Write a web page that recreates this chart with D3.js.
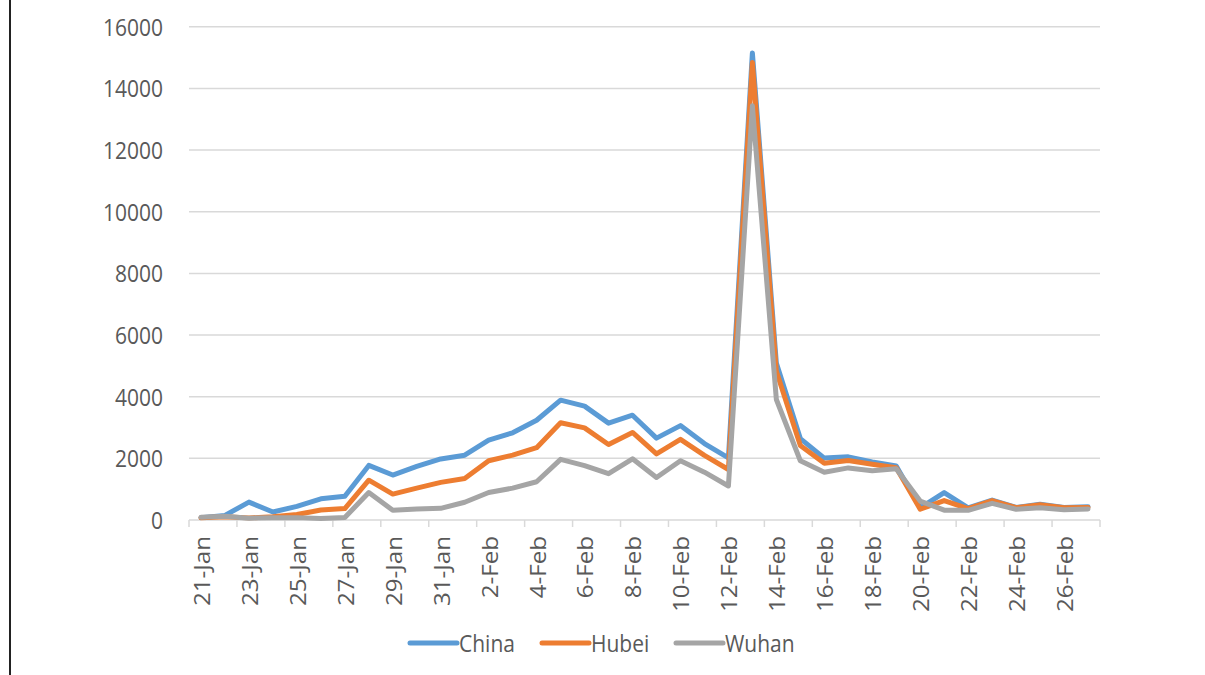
<!DOCTYPE html>
<html>
<head>
<meta charset="utf-8">
<script src="https://cdn.jsdelivr.net/npm/d3@7"></script>
<style>
  html, body { margin: 0; padding: 0; background: #ffffff; }
  svg { display: block; }
  text { font-family: "Open Sans", "Liberation Sans", sans-serif; fill: #595959; }
</style>
</head>
<body>
<svg id="chart" width="1205" height="675"></svg>
<script>
const categories = ["21-Jan","22-Jan","23-Jan","24-Jan","25-Jan","26-Jan","27-Jan","28-Jan","29-Jan","30-Jan","31-Jan",
  "1-Feb","2-Feb","3-Feb","4-Feb","5-Feb","6-Feb","7-Feb","8-Feb","9-Feb","10-Feb","11-Feb","12-Feb","13-Feb","14-Feb",
  "15-Feb","16-Feb","17-Feb","18-Feb","19-Feb","20-Feb","21-Feb","22-Feb","23-Feb","24-Feb","25-Feb","26-Feb","27-Feb"];

const china = [77, 149, 580, 259, 444, 688, 769, 1771, 1459, 1737, 1982, 2102, 2590, 2829, 3235, 3887, 3694, 3143, 3399,
  2656, 3062, 2478, 2015, 15152, 5090, 2641, 2009, 2048, 1886, 1749, 394, 889, 397, 648, 409, 508, 406, 433];
const hubei = [72, 105, 69, 105, 180, 323, 371, 1291, 840, 1032, 1220, 1347, 1921, 2103, 2345, 3156, 2987, 2447, 2841,
  2147, 2618, 2097, 1638, 14840, 4823, 2420, 1843, 1933, 1807, 1693, 349, 631, 366, 630, 398, 499, 401, 409];
const wuhan = [90, 120, 60, 70, 77, 46, 80, 892, 315, 356, 378, 576, 894, 1033, 1242, 1967, 1766, 1501, 1985,
  1379, 1921, 1552, 1104, 13436, 3910, 1923, 1548, 1690, 1600, 1660, 615, 319, 314, 541, 348, 401, 334, 357];

const seriesNames = ["China", "Hubei", "Wuhan"];
const seriesColors = ["#5B9BD5", "#ED7D31", "#A5A5A5"];
const yTicks = [0, 2000, 4000, 6000, 8000, 10000, 12000, 14000, 16000];

const svg = d3.select("#chart");

// left border line
svg.append("line").attr("x1", 10).attr("x2", 10).attr("y1", 0).attr("y2", 675)
  .attr("stroke", "#222").attr("stroke-width", 2);

const x = d3.scaleBand().domain(categories).range([189, 1100]).padding(0);
const y = d3.scaleLinear().domain([0, 16000]).range([520, 26.8]);

// gridlines
svg.append("g").selectAll("line").data(yTicks.filter(t => t > 0)).join("line")
  .attr("x1", 189).attr("x2", 1100)
  .attr("y1", d => y(d)).attr("y2", d => y(d))
  .attr("stroke", "#d9d9d9").attr("stroke-width", 1.5);

// y labels
svg.append("g").selectAll("text").data(yTicks).join("text")
  .attr("x", 163).attr("y", d => y(d))
  .attr("text-anchor", "end").attr("dominant-baseline", "central")
  .attr("font-size", 21)
  .attr("transform", d => `translate(0,${y(d)}) scale(1,1.12) translate(0,${-y(d)})`)
  .text(d => d);

// x axis line
svg.append("line").attr("x1", 189).attr("x2", 1100).attr("y1", y(0)).attr("y2", y(0))
  .attr("stroke", "#d9d9d9").attr("stroke-width", 1.5);

// tick marks every 2 categories at boundaries
const tickPos = categories.filter((c, i) => i % 2 === 0).map(c => x(c)).concat([x.range()[1]]);
svg.append("g").selectAll("line").data(tickPos).join("line")
  .attr("x1", d => d).attr("x2", d => d).attr("y1", y(0)).attr("y2", y(0) + 7)
  .attr("stroke", "#d9d9d9").attr("stroke-width", 1.5);

// x labels
const labelCats = categories.filter((c, i) => i % 2 === 0);
svg.append("g").selectAll("text").data(labelCats).join("text")
  .attr("text-anchor", "end").attr("dominant-baseline", "central")
  .attr("font-size", 21)
  .attr("transform", d => `translate(${x(d) + x.bandwidth() / 2 + 1},536) rotate(-90) scale(1.15,1)`)
  .text(d => d);

// lines
const line = d3.line()
  .x((d, i) => x(categories[i]) + x.bandwidth() / 2)
  .y(d => y(d));

const seriesData = [china, hubei, wuhan];
// draw in order China, Hubei, Wuhan so Wuhan is on top
seriesData.forEach((vals, k) => {
  svg.append("path").datum(vals)
    .attr("d", line)
    .attr("fill", "none")
    .attr("stroke", seriesColors[k])
    .attr("stroke-width", 5)
    .attr("stroke-linejoin", "round")
    .attr("stroke-linecap", "round");
});

// legend
const legendX = [410, 542, 676];
const lg = svg.append("g");
seriesNames.forEach((name, k) => {
  lg.append("line").attr("x1", legendX[k]).attr("x2", legendX[k] + 47)
    .attr("y1", 643).attr("y2", 643)
    .attr("stroke", seriesColors[k]).attr("stroke-width", 5).attr("stroke-linecap", "round");
  lg.append("text").attr("x", legendX[k] + 49).attr("y", 643)
    .attr("dominant-baseline", "central").attr("font-size", 21)
    .attr("transform", `translate(0,643) scale(1,1.12) translate(0,-643)`)
    .text(name);
});
</script>
</body>
</html>
